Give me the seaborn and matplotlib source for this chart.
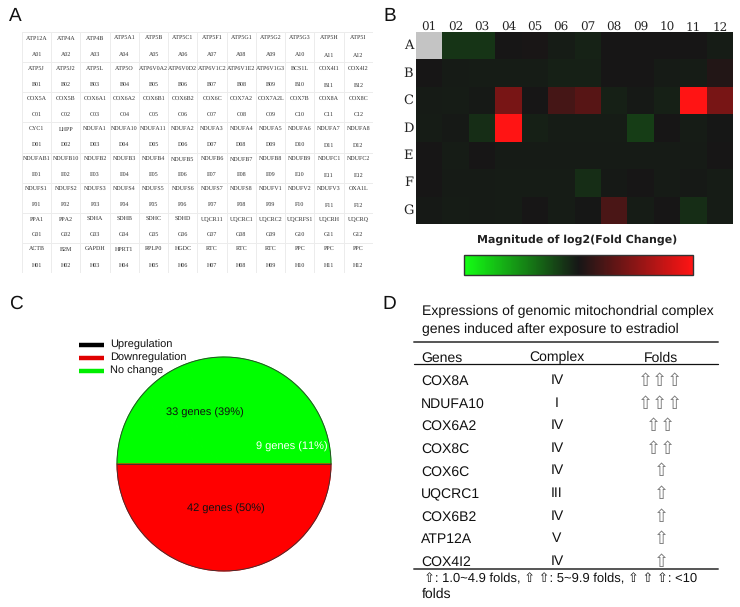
import numpy as np
import pandas as pd
import seaborn as sns
import matplotlib
matplotlib.use("Agg")
import matplotlib.pyplot as plt
from matplotlib.colors import LinearSegmentedColormap
from matplotlib.lines import Line2D

W, H = 740, 607

row_letters = list("ABCDEFGH")
col_labels = ["01","02","03","04","05","06","07","08","09","10","11","12"]
genes_a = ["ATP12A","ATP4A","ATP4B","ATP5A1","ATP5B","ATP5C1","ATP5F1","ATP5G1","ATP5G2","ATP5G3","ATP5H","ATP5I"]
genes_b = ["ATP5J","ATP5J2","ATP5L","ATP5O","ATP6V0A2","ATP6V0D2","ATP6V1C2","ATP6V1E2","ATP6V1G3","BCS1L","COX4I1","COX4I2"]
genes_c = ["COX5A","COX5B","COX6A1","COX6A2","COX6B1","COX6B2","COX6C","COX7A2","COX7A2L","COX7B","COX8A","COX8C"]
genes_d = ["CYC1","LHPP","NDUFA1","NDUFA10","NDUFA11","NDUFA2","NDUFA3","NDUFA4","NDUFA5","NDUFA6","NDUFA7","NDUFA8"]
genes_e = ["NDUFAB1","NDUFB10","NDUFB2","NDUFB3","NDUFB4","NDUFB5","NDUFB6","NDUFB7","NDUFB8","NDUFB9","NDUFC1","NDUFC2"]
genes_f = ["NDUFS1","NDUFS2","NDUFS3","NDUFS4","NDUFS5","NDUFS6","NDUFS7","NDUFS8","NDUFV1","NDUFV2","NDUFV3","OXA1L"]
genes_g = ["PPA1","PPA2","SDHA","SDHB","SDHC","SDHD","UQCR11","UQCRC1","UQCRC2","UQCRFS1","UQCRH","UQCRQ"]
genes_h = ["ACTB","B2M","GAPDH","HPRT1","RPLP0","HGDC","RTC","RTC","RTC","PPC","PPC","PPC"]

fc_a = [np.nan,-.13,-.13,.00,.01,-.03,-.05,.00,.00,.00,.00,-.03]
fc_b = [.00,-.02,-.03,-.03,-.03,-.045,-.045,.00,.00,-.02,-.03,.05]
fc_c = [-.02,-.03,-.01,.42,.00,.20,.28,-.04,-.01,-.04,1.0,.42]
fc_d = [-.03,-.01,-.10,1.0,-.04,-.03,-.03,-.03,-.17,.00,-.025,-.005]
fc_e = [.00,-.025,.00,-.02,-.02,-.02,-.02,-.02,-.02,-.02,-.02,.00]
fc_f = [.00,-.02,-.02,-.03,-.03,-.025,-.10,-.01,.00,-.02,-.01,-.03]
fc_g = [-.01,-.025,-.02,-.025,.00,-.025,-.005,.22,-.03,.00,-.10,-.03]

pie_counts = [33, 9, 42]
pie_labels = ["33 genes (39%)", "9 genes (11%)", "42 genes (50%)"]
pie_colors = ["#00ff00", "#00ff00", "#ff0000"]
pie_text_colors = ["#111111", "white", "#111111"]
legend_names = ["Upregulation", "Downregulation", "No change"]
legend_colors = ["black", "#e00000", "#00ee00"]

table_genes = ["COX8A","NDUFA10","COX6A2","COX8C","COX6C","UQCRC1","COX6B2","ATP12A","COX4I2"]
table_complex = ["IV","I","IV","IV","IV","III","IV","V","IV"]
table_arrows = [3,3,2,2,1,1,1,1,1]

sns.set_theme(style="white")
plt.rcParams["font.family"] = ["Liberation Sans", "DejaVu Sans"]
plt.rcParams["text.hinting"] = "none"
plt.rcParams["text.hinting_factor"] = 1
fig = plt.figure(figsize=(W/100, H/100), dpi=100, facecolor="white")

def axpx(x0, y0, x1, y1):
    return fig.add_axes([x0/W, 1-y1/H, (x1-x0)/W, (y1-y0)/H])

# Panel A: plate map
rows_a = [genes_a,genes_b,genes_c,genes_d,genes_e,genes_f,genes_g,genes_h]
annot = np.array([[f"{g}\n{row_letters[i]}{col_labels[j]}" for j, g in enumerate(r)] for i, r in enumerate(rows_a)])
axa = axpx(22, 32, 373, 273)
sns.heatmap(np.zeros((8,12)), ax=axa, cmap=["white"], cbar=False, annot=annot, fmt="",
            linewidths=0.6, linecolor="#ececec", xticklabels=False, yticklabels=False,
            annot_kws=dict(fontsize=4.3, family="Liberation Serif", color="#303030", linespacing=3.6))

# Panel B: heat map
fc = pd.DataFrame([fc_a,fc_b,fc_c,fc_d,fc_e,fc_f,fc_g], index=row_letters[:7], columns=col_labels)
cmap = LinearSegmentedColormap.from_list("gbr", [(0,"#14ff14"),(.5,"#161616"),(1,"#ff1414")])
cmap.set_bad("#c4c4c4")
axb = axpx(416, 32, 733, 224)
axc = axpx(464, 255, 693, 275)
sns.heatmap(fc, ax=axb, cmap=cmap, vmin=-1, vmax=1, cbar_ax=axc,
            cbar_kws=dict(orientation="horizontal", ticks=[], drawedges=False))
axb.xaxis.tick_top()
axb.tick_params(length=0, pad=2)
axb.tick_params(axis="x", pad=-1)
axb.set_xticklabels(col_labels, rotation=0, fontsize=8.5, family="DejaVu Serif", color="#222222")
axb.set_yticklabels(row_letters[:7], rotation=0, fontsize=9.5, family="DejaVu Serif", color="#222222")
axb.set_xlabel(""); axb.set_ylabel("")
cb = axb.collections[0].colorbar
cb.outline.set_visible(True); cb.outline.set_edgecolor("#333333"); cb.outline.set_linewidth(1)

# Panel C: pie
axp = axpx(117, 357, 331, 571)
wedges, _ = axp.pie(pie_counts, colors=pie_colors, startangle=0, radius=1,
                    wedgeprops=dict(linewidth=0.8))
for w, c in zip(wedges, pie_colors):
    w.set_edgecolor(c)
axp.set_xlim(-1, 1); axp.set_ylim(-1, 1)
axp.set_aspect("auto")
axp.add_line(Line2D([-1, 1], [0, 0], color="#333333", lw=0.6))
th = np.linspace(0, 2*np.pi, 361)
axp.plot(np.cos(th), np.sin(th), color="#333333", lw=0.6, clip_on=False)
label_pos = [(-.18, .477), (.635, .16), (.02, -.42)]
for (px, py), s, c in zip(label_pos, pie_labels, pie_text_colors):
    axp.text(px, py, s, ha="center", va="center", fontsize=7.6, color=c)

# Page overlay in pixel coordinates for legend, rules and text
ov = fig.add_axes([0, 0, 1, 1], zorder=5)
ov.set_xlim(0, W); ov.set_ylim(H, 0); ov.axis("off"); ov.patch.set_alpha(0)

for s, x, y in [("A", 9, 21), ("B", 383, 21), ("C", 9, 309), ("D", 382, 309)]:
    ov.text(x, y, s, fontsize=13.5, ha="left", va="baseline", color="#111111")

ov.text(577, 240, "Magnitude of log2(Fold Change)", fontsize=7.6, fontweight="bold",
        family="DejaVu Sans", ha="center", va="center", color="#222222")

for i, (name, col) in enumerate(zip(legend_names, legend_colors)):
    y = 345 + i*13
    ov.plot([79, 104], [y, y], color=col, lw=3.2, solid_capstyle="butt")
    ov.text(110, y, name, fontsize=7.6, ha="left", va="center", color="#111111")

fs = 9.9
tx = 421
ov.text(tx+1, 315, "Expressions of genomic mitochondrial complex", fontsize=10.1, va="baseline", color="#111111")
ov.text(tx+1, 333, "genes induced after exposure to estradiol", fontsize=10.1, va="baseline", color="#111111")
ov.plot([414, 718], [342, 342], color="#555555", lw=1.4)
ov.plot([414, 718], [364, 364], color="#111111", lw=0.9)
ov.plot([414, 718], [569, 569], color="#555555", lw=1.4)
ov.text(tx, 362, "Genes", fontsize=fs, va="baseline", color="#111111")
ov.text(557, 361, "Complex", fontsize=fs, va="baseline", ha="center", color="#111111")
ov.text(661, 362, "Folds", fontsize=fs, va="baseline", ha="center", color="#111111")
for i, (g, c, n) in enumerate(zip(table_genes, table_complex, table_arrows)):
    y = 380 + i*22.6
    ov.text(tx, y+5, g, fontsize=fs, va="baseline", color="#111111")
    ov.text(557, y+4, c, fontsize=fs, va="baseline", ha="center", color="#111111")
    ov.text(661, y+1, "".join(["\u21e7"]*n), fontsize=13, family="DejaVu Sans",
            va="center", ha="center", color="#777777")
ov.text(424, 582, "\u21e7: 1.0~4.9 folds, \u21e7 \u21e7: 5~9.9 folds, \u21e7 \u21e7 \u21e7: <10",
        fontsize=9.6, va="baseline", color="#111111")
ov.text(422, 598, "folds", fontsize=fs, va="baseline", color="#111111")

fig.savefig("out.png", dpi=100)
